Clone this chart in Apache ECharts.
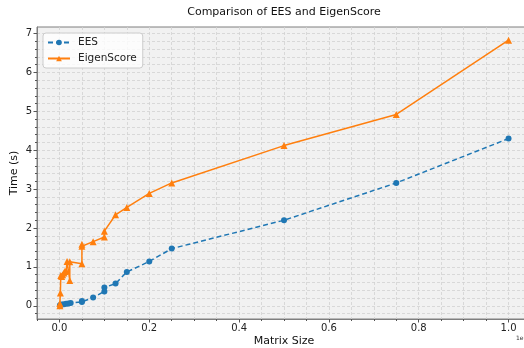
<!DOCTYPE html>
<html><head><meta charset="utf-8">
<script src="https://cdn.jsdelivr.net/npm/echarts@6/dist/echarts.min.js"></script>
<style>html,body{margin:0;padding:0;background:#fff}#c{width:524px;height:348px}</style>
</head><body><div id="c"></div>
<script>
var titleText = 'Comparison of EES and EigenScore';
var xName = 'Matrix Size';
var yName = 'Time (s)';
var seriesNames = ['EES', 'EigenScore'];
var xMajorTicks = [0, 200000, 400000, 600000, 800000, 1000000];
var yMajorTicks = [0, 1, 2, 3, 4, 5, 6, 7];

var eesSizes = [1000, 2000, 5000, 10000, 15000, 20000, 25000, 50000, 50000, 75000, 100000, 100000, 125000, 150000, 200000, 250000, 500000, 750000, 1000000];
var eesTimes = [0.01, 0.02, 0.03, 0.04, 0.05, 0.06, 0.07, 0.10, 0.12, 0.21, 0.37, 0.47, 0.57, 0.87, 1.14, 1.47, 2.20, 3.16, 4.30];

var eigSizes = [1000, 1000, 2000, 3000, 5000, 7000, 10000, 12000, 15000, 17000, 23000, 23000, 50000, 50000, 50000, 75000, 100000, 100000, 125000, 150000, 200000, 250000, 500000, 750000, 1000000];
var eigTimes = [0.00, 0.06, 0.33, 0.78, 0.75, 0.80, 0.84, 0.88, 0.90, 1.14, 0.65, 1.13, 1.08, 1.53, 1.58, 1.65, 1.77, 1.92, 2.34, 2.53, 2.89, 3.16, 4.12, 4.92, 6.83];

function zip(a, b) { return a.map(function (v, i) { return [v, b[i]]; }); }

// minor tick / grid positions on y: every 0.2 inside the visible range
var yMinorTicks = [];
for (var k = -1; k <= 35; k++) yMinorTicks.push(Math.round(k * 0.2 * 10) / 10);

var FONT = 'DejaVu Sans';
var chart = echarts.init(document.getElementById('c'), null, {renderer: 'canvas'});
var gridLine = {show: true, lineStyle: {color: '#d2d2d2', type: [3, 2], width: 0.8}};

chart.setOption({
  backgroundColor: '#ffffff',
  animation: false,
  textStyle: {fontFamily: FONT},
  grid: {left: 37, top: 27, width: 494, height: 292, show: true, backgroundColor: '#f1f1f1', borderColor: '#7f7f7f', borderWidth: 1,
    containLabel: false, outerBoundsMode: 'none'},
  legend: {
    orient: 'vertical', left: 43, top: 33, padding: [4, 6, 4, 4],
    itemWidth: 22, itemHeight: 7, itemGap: 5,
    backgroundColor: 'rgba(255,255,255,0.8)', borderColor: '#cccccc', borderWidth: 1, borderRadius: 3,
    textStyle: {fontFamily: FONT, fontSize: 10.5, color: '#222', padding: [0, 0, 0, 3]},
    data: seriesNames
  },
  graphic: [
    {type: 'text', x: 284, y: 12, style: {text: titleText, font: '11px "DejaVu Sans"', fill: '#111', align: 'center', verticalAlign: 'middle'}},
    {type: 'text', x: 516, y: 338, style: {text: '1e6', font: '6px "DejaVu Sans"', fill: '#333', align: 'left', verticalAlign: 'middle'}}
  ],
  xAxis: [{
    type: 'value', min: -50000, max: 1050000, interval: 50000,
    name: xName, nameLocation: 'middle', nameGap: 17, nameMoveOverlap: false,
    nameTextStyle: {fontFamily: FONT, fontSize: 11, color: '#111'},
    axisLine: {show: true, onZero: false, lineStyle: {color: '#7f7f7f', width: 1}},
    axisTick: {show: true, length: 2, lineStyle: {color: '#555'}},
    axisLabel: {fontFamily: FONT, fontSize: 10, color: '#222', margin: 4,
      formatter: function (v) { return xMajorTicks.indexOf(Math.round(v)) >= 0 ? (v / 1e6).toFixed(1) : ''; }},
    splitLine: gridLine
  }, {
    type: 'value', min: -50000, max: 1050000, position: 'bottom', gridIndex: 0,
    axisLine: {show: false, onZero: false}, splitLine: {show: false},
    axisLabel: {show: false},
    axisTick: {show: true, length: 3.5, customValues: xMajorTicks, lineStyle: {color: '#555'}}
  }],
  yAxis: [{
    type: 'value', min: -0.34, max: 7.17,
    name: yName, nameLocation: 'middle', nameGap: 17, nameMoveOverlap: false,
    nameTextStyle: {fontFamily: FONT, fontSize: 11, color: '#111'},
    axisLine: {show: true, onZero: false, lineStyle: {color: '#7f7f7f', width: 1}},
    axisTick: {show: true, length: 2, customValues: yMinorTicks, lineStyle: {color: '#555'}},
    axisLabel: {fontFamily: FONT, fontSize: 10, color: '#222', margin: 5, customValues: yMajorTicks,
      formatter: function (v) { return String(Math.round(v)); }},
    splitLine: gridLine
  }, {
    type: 'value', min: -0.34, max: 7.17, position: 'left', gridIndex: 0,
    axisLine: {show: false, onZero: false}, splitLine: {show: false}, axisLabel: {show: false},
    axisTick: {show: true, length: 3.5, customValues: yMajorTicks, lineStyle: {color: '#555'}}
  }],
  series: [{
    name: seriesNames[0], type: 'line', data: zip(eesSizes, eesTimes),
    symbol: 'circle', symbolSize: 6, color: '#1f77b4',
    lineStyle: {color: '#1f77b4', width: 1.5, type: [5, 3]},
    itemStyle: {color: '#1f77b4'}
  }, {
    name: seriesNames[1], type: 'line', data: zip(eigSizes, eigTimes),
    symbol: 'triangle', symbolSize: 7, color: '#ff7f0e',
    lineStyle: {color: '#ff7f0e', width: 1.5},
    itemStyle: {color: '#ff7f0e'}
  }]
});
</script></body></html>
